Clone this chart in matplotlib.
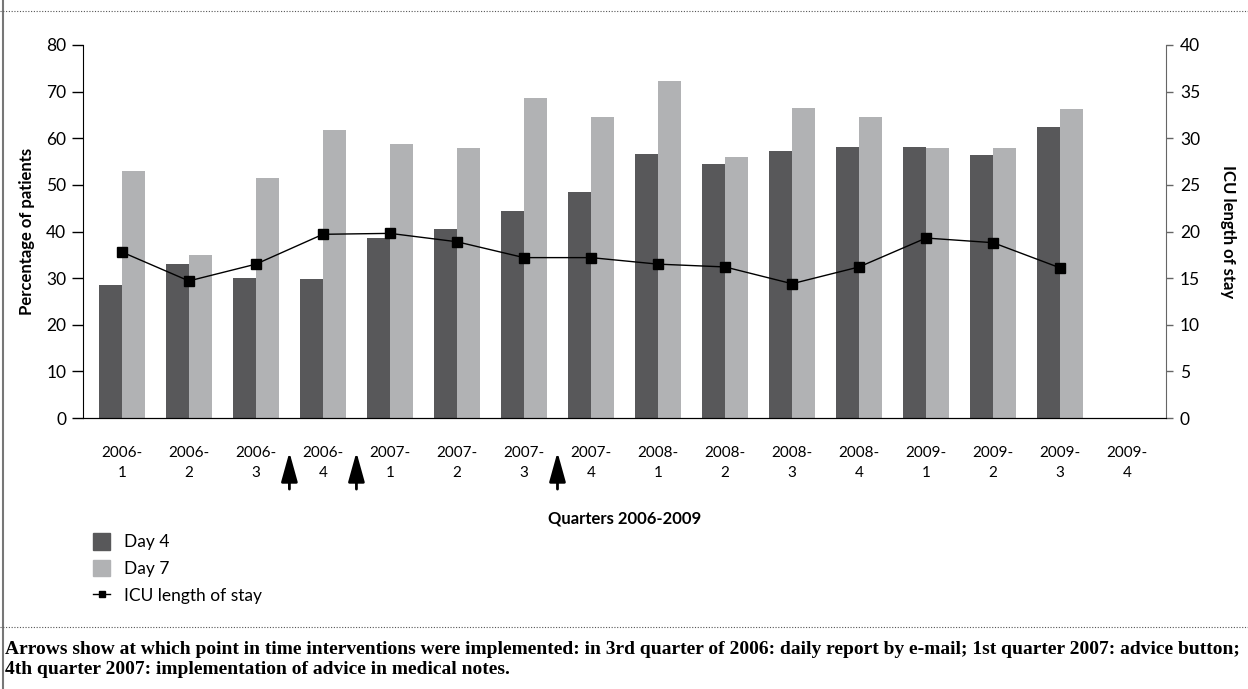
import matplotlib.pyplot as plt
import numpy as np
from matplotlib.patches import Patch
from matplotlib.lines import Line2D

quarters = ['2006-\n1', '2006-\n2', '2006-\n3', '2006-\n4',
            '2007-\n1', '2007-\n2', '2007-\n3', '2007-\n4',
            '2008-\n1', '2008-\n2', '2008-\n3', '2008-\n4',
            '2009-\n1', '2009-\n2', '2009-\n3', '2009-\n4']
day4 = [28.5, 33.0, 30.0, 29.8, 38.6, 40.5, 44.4, 48.5,
        56.6, 54.5, 57.3, 58.1, 58.1, 56.4, 62.4]
day7 = [53.0, 35.0, 51.5, 61.8, 58.8, 57.9, 68.6, 64.6,
        72.3, 56.0, 66.5, 64.6, 57.9, 57.9, 66.3]
icu_los = [17.8, 14.7, 16.5, 19.7, 19.8, 18.9, 17.2, 17.2,
           16.5, 16.2, 14.4, 16.2, 19.3, 18.8, 16.1]
# interventions fall between these quarters
arrow_pos = [2.5, 3.5, 6.5]

dark = '#58585a'
light = '#b1b2b4'
plt.rcParams['font.family'] = ['Lato', 'DejaVu Sans']

fig = plt.figure(figsize=(12.48, 6.89), dpi=100)
ax = fig.add_axes([0.0665, 0.3933, 0.8678, 0.5414])

x = np.arange(len(day4))
w = 0.34
ax.bar(x - w / 2, day4, width=w, color=dark, zorder=2)
ax.bar(x + w / 2, day7, width=w, color=light, zorder=2)
ax.set_xlim(-0.58, 15.58)
ax.set_ylim(0, 80)
ax.set_yticks(range(0, 81, 10))
ax.set_xticks(range(len(quarters)))
ax.set_xticklabels(quarters, fontsize=11, linespacing=1.55)
ax.tick_params(axis='x', length=0, pad=20)
ax.tick_params(axis='y', length=8, width=1, labelsize=12.5, pad=4)
ax.set_ylabel('Percentage of patients', fontsize=12, fontweight='bold', labelpad=8)
ax.set_xlabel('Quarters 2006-2009', fontsize=12, fontweight='bold', labelpad=22)
ax.spines['top'].set_visible(False)
ax.spines['right'].set_visible(False)

ax2 = ax.twinx()
ax2.plot(x, icu_los, color='black', lw=1, marker='s', ms=7, zorder=5)
ax2.set_ylim(0, 40)
ax2.set_yticks(range(0, 41, 5))
ax2.tick_params(axis='y', length=5, width=1, color='#666666', labelsize=12.5, pad=5)
ax2.spines['top'].set_visible(False)
ax2.spines['left'].set_visible(False)
ax2.spines['right'].set_color('#666666')
ax2.set_ylabel('ICU length of stay', fontsize=12, fontweight='bold',
               rotation=270, labelpad=26)

for p in arrow_pos:
    ax.annotate('', xy=(p, -0.084), xytext=(p, -0.198),
                xycoords=ax.get_xaxis_transform(),
                arrowprops=dict(arrowstyle='-|>,head_length=1.8,head_width=0.5',
                                color='black', lw=2),
                annotation_clip=False)

handles = [Patch(color=dark), Patch(color=light),
           Line2D([], [], color='black', lw=1, marker='s', ms=5)]
fig.legend(handles, ['Day 4', 'Day 7', 'ICU length of stay'],
           loc='upper left', bbox_to_anchor=(0.0745, 0.2265), frameon=False,
           fontsize=12.5, handlelength=1.0, handleheight=1.1,
           handletextpad=0.8, labelspacing=0.55, borderpad=0, borderaxespad=0)

# frame lines around the figure panel
fig.add_artist(Line2D([0.0025, 0.0025], [0, 1], color='#777777', lw=1.5))
for yy in [1 - 11 / 689, 1 - 627 / 689]:
    fig.add_artist(Line2D([0, 1], [yy, yy], color='#555555', lw=0.8, ls=(0, (1, 1.5))))

fig.text(0.004, 1 - 641 / 689,
         'Arrows show at which point in time interventions were implemented: in 3rd quarter of 2006: '
         'daily report by e-mail; 1st quarter 2007: advice button;\n'
         '4th quarter 2007: implementation of advice in medical notes.',
         family=['Liberation Serif', 'DejaVu Serif'], fontweight='bold', fontsize=14,
         va='top', linespacing=1.2)

fig.savefig('out.png', dpi=100)
